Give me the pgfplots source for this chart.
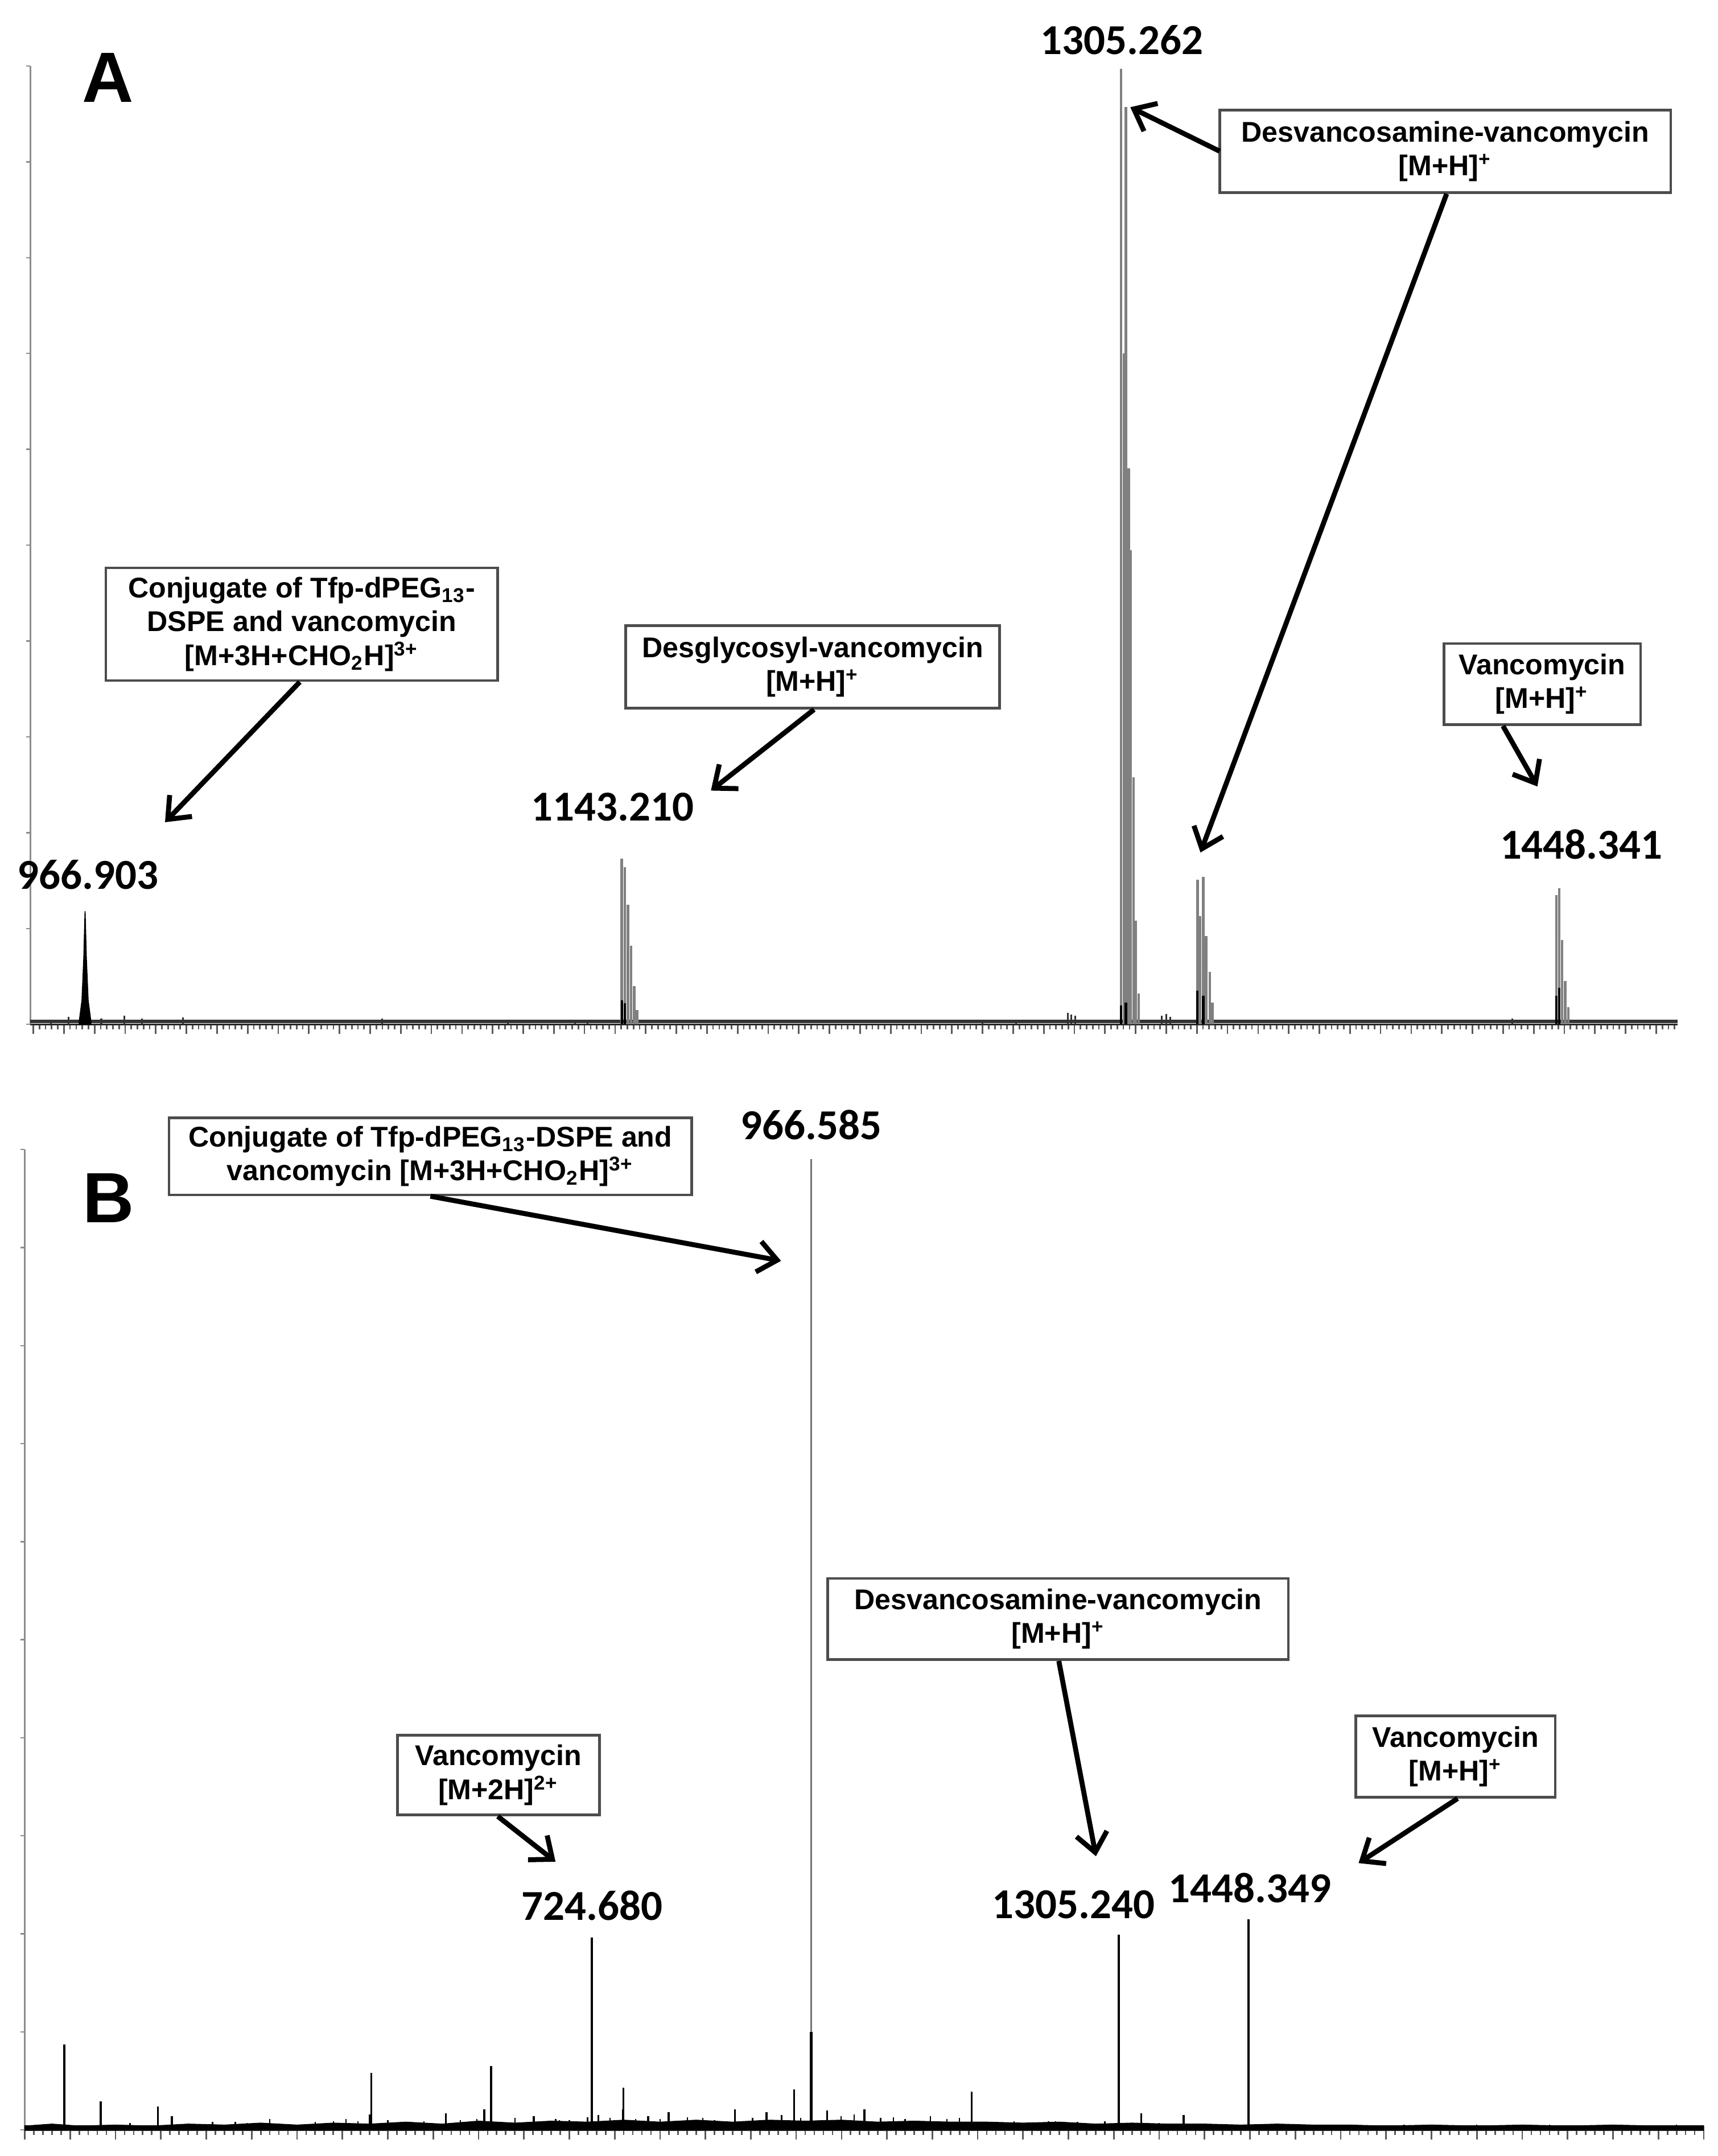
\documentclass[border=0pt]{standalone}
\usepackage{pgfplots}
\pgfplotsset{compat=1.18}
\usetikzlibrary{arrows.meta}
\usepackage{fontspec}
\setmainfont{Liberation Sans}
\newfontfamily\numfont{Carlito}

\begin{document}
\begin{tikzpicture}
\useasboundingbox (0,0) rectangle (499.6pt,627.2pt);
\pgfplotsset{
 spec/.style={
  scale only axis, axis lines=left, axis line style={-}, clip=false,
  anchor=south west,
  ymin=0, ymax=100, ytick distance=10,
  xticklabel=\empty, yticklabel=\empty,
  tick align=outside,
  minor x tick num=4,
  x axis line style={black!85, line width=0.5pt},
  y axis line style={black!45, line width=0.5pt},
  xtick style={black!65, line width=0.45pt, /pgfplots/major tick length=2.8pt, /pgfplots/minor tick length=1.4pt},
  ytick style={black!45, line width=0.4pt, /pgfplots/major tick length=1.2pt},
 }
}
% ---------------- Panel A ----------------
\begin{axis}[spec, at={(8.8pt,329.2pt)}, width=479.2pt, height=278.8pt,
  xmin=949, xmax=1487, xtick distance=10]
\addplot[black!80, line width=0.9pt] coordinates {(949,0.3)(1487,0.3)};
\addplot[ycomb, black!80, line width=0.5pt] coordinates {
 (955.7,0.5)(961.5,0.8)(972.2,0.6)(979.8,0.9)(985.5,0.6)(998.8,0.7)(1063.9,0.6)
 (1105,0.5)(1127,0.5)(1131,0.5)(1260,0.5)(1271,0.5)(1287.8,1.2)(1289,1.0)(1290.3,0.9)
 (1318.5,0.9)(1320,1.1)(1321.3,0.8)(1433,0.6)};
\addplot[fill=black, draw=black, line width=0.3pt] coordinates {
 (965.0,0.3)(965.9,2.5)(966.5,7)(966.903,11.8)(967.3,7)(967.9,2.5)(968.8,0.3)} \closedcycle;
\addplot[ycomb, black!50, line width=0.75pt] coordinates {
 (1142.2,17.3)(1143.21,16.4)(1144.2,12.5)(1145.2,8.2)(1146.2,4.0)(1147.2,1.5)
 (1305.262,99.7)(1306.16,70)(1306.83,95.7)(1307.73,58)(1308.4,49.5)(1309.3,25.8)(1309.97,10.8)(1311.0,3.2)
 (1330.2,15.1)(1331.1,11.3)(1332.1,15.4)(1333.0,9.2)(1334.2,5.5)(1335.1,2.3)
 (1447.4,13.5)(1448.341,14.2)(1449.3,8.8)(1450.3,4.5)(1451.3,1.8)};
\addplot[ycomb, black, line width=0.7pt] coordinates {
 (1142.2,2.5)(1143.21,2.2)(1305.262,2)(1306.83,2.3)(1330.2,3.5)(1332.1,3)(1447.4,3)(1448.341,3.8)};
\end{axis}
% ---------------- Panel B ----------------
\begin{axis}[spec, at={(7.2pt,7.6pt)}, width=488.4pt, height=285.2pt,
  xmin=100, xmax=1950, xtick distance=50]
\addplot[fill=black, draw=black, line width=0.2pt] coordinates {
 (100,0.4)(130,0.6)(160,0.4)(200,0.5)(240,0.4)(280,0.6)(320,0.5)(360,0.7)(400,0.5)(440,0.7)
 (480,0.6)(520,0.8)(560,0.6)(600,0.9)(640,0.7)(680,0.9)(720,0.8)(760,1.0)(800,0.8)(840,1.0)
 (880,0.8)(920,1.0)(960,0.9)(1000,1.0)(1040,0.8)(1080,0.9)(1120,0.8)(1160,0.8)(1200,0.7)
 (1240,0.8)(1280,0.6)(1320,0.7)(1360,0.6)(1400,0.6)(1440,0.5)(1480,0.6)(1520,0.5)(1560,0.5)
 (1600,0.4)(1650,0.5)(1700,0.4)(1750,0.5)(1800,0.4)(1850,0.5)(1900,0.4)(1950,0.4)} \closedcycle;
\addplot[black, line width=1.0pt] coordinates {(100,0.3)(1950,0.3)};
\addplot[ycomb, black, line width=0.4pt] coordinates {
 (216,0.7)(307,0.8)(332,0.8)(345,0.7)(370,1.1)(420,0.8)(440,0.9)(454,1.1)(467,0.9)(480,1.6)
 (500,1.0)(509,0.7)(529,0.7)(540,0.9)(580,1.0)(598,1.1)(640,1.2)(685,1.1)(689,1.0)(700,1.0)
 (720,1.3)(732,1.5)(745,1.2)(759,2.1)(773,1.1)(800,1.1)(830,1.3)(847,1.2)(860,1.0)(902,1.2)
 (934,1.5)(955,1.2)(975,1.0)(999.6,1.4)(1014,1.6)(1043,1.2)(1057,1.3)(1070,1.1)(1098,1.4)
 (1116,1.1)(1130,1.2)(1171,0.8)(1190,0.9)(1228,0.9)(1236,0.9)(1260,0.8)(1276,0.6)(1290,0.9)
 (1350,0.7)(1407,0.5)(1420,0.6)(1470,0.6)(1512,0.4)(1560,0.5)(1620,0.5)(1700,0.5)(1780,0.5)
 (1860,0.5)(1920,0.5)};
\addplot[ycomb, black, line width=0.6pt] coordinates {
 (143.6,8.7)(183.7,2.9)(246.8,2.4)(262,1.4)(481.9,5.8)(563.9,1.7)(606.3,2.1)(613.9,6.5)
 (661,1.4)(724.68,19.6)(759.6,4.3)(786.9,1.4)(809.6,1.8)(882.5,2.1)(917.4,1.8)(947.7,4.1)
 (984.1,2.0)(1025.1,2.1)(1143.4,3.9)(1305.24,19.9)(1330.1,1.7)(1377.1,1.5)(1448.349,21.5)};
\addplot[ycomb, black!55, line width=0.45pt] coordinates {(966.585,99.0)};
\addplot[ycomb, black, line width=0.7pt] coordinates {(966.585,10)};
\end{axis}
% ---------------- Annotations ----------------
\begin{scope}[x=0.4pt, y=-0.4pt, shift={(0,627.2pt)}]
\tikzset{
 lbl/.style={font=\numfont\bfseries\fontsize{12.4}{14}\selectfont, inner sep=0pt},
 box/.style={draw=black!70, line width=0.75pt, fill=white, align=center, inner sep=0pt,
   font=\bfseries\fontsize{8.3}{9.8}\selectfont},
 arr/.style={line width=1.45pt, -{Straight Barb[length=5.5pt,width=9pt]}},
 panel/.style={font=\bfseries\fontsize{20.7}{24}\selectfont, inner sep=0pt}}
\node[panel] at (78.5,56.5) {A};
\node[panel] at (79,871.5) {B};
% peak labels
\node[lbl] at (816,29) {1305.262};
\node[lbl] at (64,636) {966.903};
\node[lbl] at (445.5,587) {1143.210};
\node[lbl] at (1150,614) {1448.341};
\node[lbl] at (590,818) {966.585};
\node[lbl] at (430.5,1386) {724.680};
\node[lbl] at (780.5,1385) {1305.240};
\node[lbl] at (909,1373) {1448.349};
% boxes
\node[box, minimum width=114pt, minimum height=32.8pt] at (219.5,454)
 {Conjugate of Tfp-dPEG\textsubscript{13}-\\DSPE and vancomycin\\{}[M+3H+CHO\textsubscript{2}H]\textsuperscript{3+}};
\node[box, minimum width=108.8pt, minimum height=24pt] at (591,485)
 {Desglycosyl-vancomycin\\{}[M+H]\textsuperscript{+}};
\node[box, minimum width=131.2pt, minimum height=24pt] at (1051,110)
 {Desvancosamine-vancomycin\\{}[M+H]\textsuperscript{+}};
\node[box, minimum width=57.2pt, minimum height=23.6pt] at (1121.5,497.5)
 {Vancomycin\\{}[M+H]\textsuperscript{+}};
\node[box, minimum width=152pt, minimum height=22.4pt] at (313,841)
 {Conjugate of Tfp-dPEG\textsubscript{13}-DSPE and\\vancomycin [M+3H+CHO\textsubscript{2}H]\textsuperscript{3+}};
\node[box, minimum width=58.8pt, minimum height=23.2pt] at (362.5,1291)
 {Vancomycin\\{}[M+2H]\textsuperscript{2+}};
\node[box, minimum width=134pt, minimum height=23.6pt] at (769.5,1177.5)
 {Desvancosamine-vancomycin\\{}[M+H]\textsuperscript{+}};
\node[box, minimum width=58pt, minimum height=23.6pt] at (1058.5,1277.5)
 {Vancomycin\\{}[M+H]\textsuperscript{+}};
% arrows
\draw[arr] (218,496) -- (120,598);
\draw[arr] (592,516) -- (517,575);
\draw[arr] (887,110) -- (822,78);
\draw[arr] (1052,141) -- (873,620);
\draw[arr] (1093,528) -- (1118,572);
\draw[arr] (313,870) -- (568,917);
\draw[arr] (362,1321) -- (404,1354);
\draw[arr] (770,1208) -- (797,1350);
\draw[arr] (1060,1308) -- (988,1355);
\end{scope}
\end{tikzpicture}
\end{document}
